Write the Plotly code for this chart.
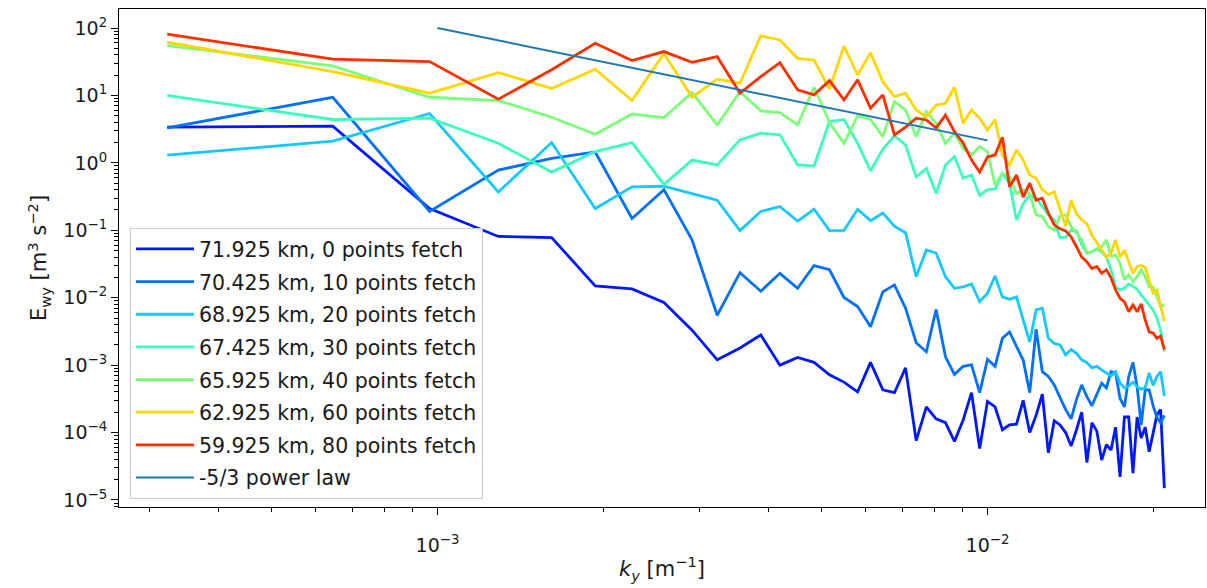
import numpy as np
import plotly.graph_objects as go

# Along-track wavenumber grid: k_n = n / L for a 3.1 km window
L_WINDOW = 3100.0
ky = np.arange(1, 66) / L_WINDOW

labels = [
    "71.925 km, 0 points fetch",
    "70.425 km, 10 points fetch",
    "68.925 km, 20 points fetch",
    "67.425 km, 30 points fetch",
    "65.925 km, 40 points fetch",
    "62.925 km, 60 points fetch",
    "59.925 km, 80 points fetch",
]

colors = [
    "rgb(0,24,255)",
    "rgb(0,112,255)",
    "rgb(22,200,255)",
    "rgb(60,255,190)",
    "rgb(124,255,121)",
    "rgb(255,215,0)",
    "rgb(255,48,0)",
]

E_fetch0 = [3.4, 3.5, 0.21, 0.081, 0.078, 0.015, 0.0135, 0.0085, 0.0033, 0.0012,
            0.0018, 0.0028, 0.0010, 0.0013, 0.0011, 0.00072, 0.00056, 0.00040, 0.0011, 0.00043,
            0.00039, 0.00091, 7.6e-5, 0.00024, 0.00016, 0.00014, 7.4e-5, 0.000154, 0.00039, 5.8e-5,
            0.00029, 0.00024, 0.00011, 0.00013, 0.000133, 0.00030, 0.0001, 0.00018, 0.00037, 5.0e-5,
            0.00015, 0.00013, 0.0001, 6.3e-5, 0.00011, 0.0002, 3.6e-5, 0.00014, 0.000105, 3.9e-5,
            6.6e-5, 5.5e-5, 0.00012, 2.2e-5, 0.00017, 0.00017, 2.5e-5, 0.00017, 8.3e-5, 0.00012,
            5.2e-5, 0.0001, 0.00018, 0.00022, 1.5e-5]

E_fetch10 = [3.3, 9.4, 0.19, 0.78, 1.17, 1.45, 0.15, 0.40, 0.072, 0.0055,
             0.0235, 0.0125, 0.023, 0.0138, 0.030, 0.026, 0.0101, 0.0074, 0.0037, 0.0122,
             0.0155, 0.0070, 0.00215, 0.00158, 0.0067, 0.00133, 0.00073, 0.00096, 0.00101, 0.00039,
             0.00122, 0.00096, 0.0025, 0.0031, 0.0019, 0.00119, 0.00039, 0.0034, 0.00080, 0.00068,
             0.00051, 0.00034, 0.00022, 0.00016, 0.00031, 0.00051, 0.00034, 0.00025, 0.00038, 0.00054,
             0.00046, 0.0008, 0.00077, 0.00032, 0.00024, 0.00068, 0.0011, 0.00048, 0.00013, 0.00043,
             0.00043, 0.00025, 0.00017, 0.00014, 0.00018]

E_fetch20 = [1.3, 2.1, 5.4, 0.37, 2.0, 0.21, 0.44, 0.45, 0.35, 0.28,
             0.099, 0.19, 0.225, 0.137, 0.205, 0.099, 0.10, 0.205, 0.139, 0.18,
             0.115, 0.092, 0.0205, 0.051, 0.046, 0.0205, 0.0138, 0.0145, 0.016, 0.0087,
             0.0117, 0.021, 0.0103, 0.0095, 0.0103, 0.0047, 0.0022, 0.0066, 0.0070, 0.0025,
             0.0021, 0.0020, 0.00142, 0.0017, 0.0015, 0.0012, 0.00109, 0.00091, 0.00096, 0.00085,
             0.00077, 0.00069, 0.0008, 0.00054, 0.00046, 0.00049, 0.00056, 0.00048, 0.00044, 0.00046,
             0.00077, 0.00050, 0.00068, 0.0008, 0.00035]

E_fetch30 = [10.0, 4.4, 4.6, 1.95, 0.73, 1.47, 2.0, 0.48, 1.1, 0.93,
             2.19, 2.75, 2.6, 0.93, 0.90, 4.1, 4.4, 1.95, 0.76, 1.6,
             2.5, 1.84, 0.62, 0.83, 0.35, 0.93, 1.24, 0.59, 0.66, 0.33,
             0.40, 0.41, 0.70, 0.50, 0.142, 0.25, 0.33, 0.30, 0.225, 0.169,
             0.142, 0.077, 0.079, 0.10, 0.098, 0.061, 0.046, 0.048, 0.053, 0.048,
             0.040, 0.026, 0.0145, 0.013, 0.0139, 0.016, 0.0148, 0.0134, 0.011, 0.0093,
             0.0078, 0.0066, 0.005, 0.0033, 0.0016]

E_fetch40 = [55.0, 27.4, 9.4, 8.4, 4.75, 2.65, 5.3, 4.7, 11.0, 3.65,
             11.4, 5.9, 5.55, 3.65, 13.2, 3.95, 1.95, 4.96, 4.4, 2.45,
             8.1, 6.1, 2.45, 5.75, 3.86, 1.95, 2.75, 1.65, 1.31, 1.74,
             1.47, 0.47, 0.70, 0.62, 0.35, 0.40, 0.35, 0.17, 0.16, 0.113,
             0.10, 0.163, 0.17, 0.113, 0.09, 0.072, 0.046, 0.048, 0.051, 0.057,
             0.072, 0.041, 0.043, 0.032, 0.0184, 0.0218, 0.0173, 0.0205, 0.026, 0.0205,
             0.0145, 0.0145, 0.0104, 0.0074, 0.0078]

E_fetch60 = [61.5, 22.5, 10.8, 21.8, 12.7, 24.5, 8.4, 42.0, 9.4, 17.4,
             15.2, 76.5, 66.5, 35.5, 33.6, 12.4, 54.0, 20.1, 43.0, 16.0,
             9.6, 10.8, 6.1, 4.85, 7.2, 7.65, 13.2, 3.86, 6.1, 4.6,
             3.07, 4.4, 1.3, 0.93, 1.55, 1.1, 0.66, 0.59, 0.40, 0.34,
             0.37, 0.2, 0.116, 0.28, 0.175, 0.143, 0.125, 0.085, 0.065, 0.051,
             0.040, 0.046, 0.072, 0.040, 0.051, 0.034, 0.023, 0.029, 0.030, 0.028,
             0.0184, 0.0117, 0.013, 0.0078, 0.0045]

E_fetch80 = [81.0, 34.5, 31.8, 8.8, 24.0, 59.5, 33.0, 44.7, 31.0, 37.6,
             10.8, 19.0, 30.6, 12.1, 10.2, 16.6, 8.57, 17.0, 6.45, 10.2,
             2.6, 3.4, 4.6, 4.33, 3.3, 5.1, 2.9, 1.97, 1.1, 0.73,
             1.22, 1.31, 2.4, 0.44, 0.66, 0.31, 0.5, 0.28, 0.30, 0.18,
             0.12, 0.105, 0.098, 0.08, 0.057, 0.040, 0.034, 0.027, 0.029, 0.023,
             0.026, 0.0197, 0.013, 0.0098, 0.0087, 0.0062, 0.0078, 0.0062, 0.0081, 0.0047,
             0.0031, 0.003, 0.0025, 0.0027, 0.0017]

spectra = [E_fetch0, E_fetch10, E_fetch20, E_fetch30, E_fetch40, E_fetch60, E_fetch80]

# Decade tick positions and their labels
x_tick_exps = [-3, -2]
y_tick_exps = [2, 1, 0, -1, -2, -3, -4, -5]


def decade_label(e):
    return "10<sup>" + str(e).replace("-", "−") + "</sup>"


# Reference -5/3 slope anchored at 100 m^3 s^-2 for k = 1e-3 m^-1
plaw_k = np.array([1e-3, 1e-2])
plaw_E = 100.0 * (plaw_k / 1e-3) ** (-5.0 / 3.0)

FONT = "DejaVu Sans"

fig = go.Figure()
for i, (lab, col, E) in enumerate(zip(labels, colors, spectra)):
    fig.add_trace(go.Scatter(
        x=ky, y=E, mode="lines", name=lab, legendgroup=f"g{i}",
        line=dict(color=col, width=2.8),
    ))
fig.add_trace(go.Scatter(
    x=plaw_k, y=plaw_E, mode="lines", name="-5/3 power law", legendgroup="plaw",
    line=dict(color="#1f77b4", width=1.9),
))

axis_common = dict(
    type="log",
    showline=True, mirror=True, linecolor="black", linewidth=1.2,
    ticks="outside", ticklen=7, tickwidth=1.2, tickcolor="black",
    showgrid=False, zeroline=False,
    tickmode="array",
    tickfont=dict(family=FONT, size=19, color="#1a1a1a"),
    minor=dict(ticks="outside", ticklen=4, tickwidth=1, tickcolor="black",
               dtick="D1", showgrid=False),
)

fig.update_layout(
    width=1207, height=588,
    margin=dict(l=119, r=2, t=9, b=81),
    plot_bgcolor="white", paper_bgcolor="white",
    font=dict(family=FONT, size=19, color="#1a1a1a"),
    xaxis=dict(axis_common, range=[-3.579, -1.6045],
               tickvals=[10.0 ** e for e in x_tick_exps],
               ticktext=[decade_label(e) for e in x_tick_exps],
               ticklabelstandoff=14,
               title=dict(text="<i>k<sub>y</sub></i> [m<sup>−1</sup>]",
                          font=dict(family=FONT, size=21), standoff=6)),
    yaxis=dict(axis_common, range=[-5.104, 2.282],
               tickvals=[10.0 ** e for e in y_tick_exps],
               ticktext=[decade_label(e) for e in y_tick_exps],
               title=dict(text="E<sub>wy</sub> [m<sup>3</sup> s<sup>−2</sup>]",
                          font=dict(family=FONT, size=21), standoff=10)),
    legend=dict(
        x=0.0101, y=0.560, xanchor="left", yanchor="top",
        bgcolor="rgba(255,255,255,0.85)", bordercolor="#cccccc", borderwidth=1,
        font=dict(family=FONT, size=20.5, color="#1a1a1a"),
        tracegroupgap=3, itemwidth=58,
    ),
    showlegend=True,
)

fig.write_html("out.html")
